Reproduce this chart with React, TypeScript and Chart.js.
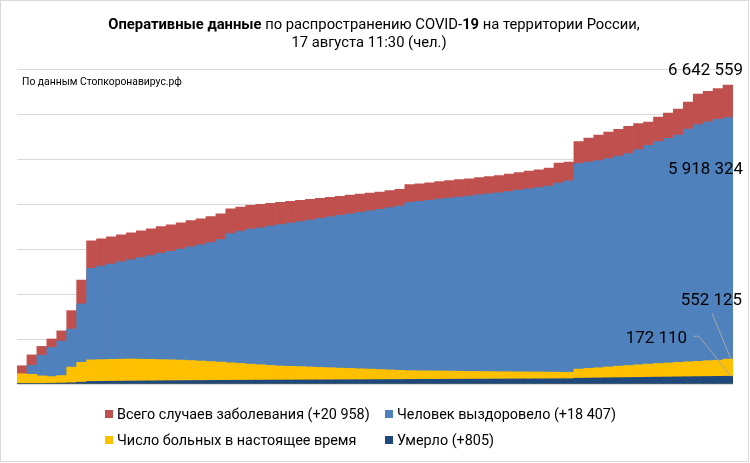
import React, { useEffect, useRef } from 'react';
import { Chart, registerables } from 'chart.js';

Chart.register(...registerables);

const FONT = 'Roboto, "Noto Sans", sans-serif';

const labels = [
  '01.06.20', '01.07.20', '01.08.20', '01.09.20', '01.10.20', '01.11.20', '01.12.20',
  '01.01.21', '04.01.21', '08.01.21', '11.01.21', '15.01.21', '18.01.21', '22.01.21', '25.01.21', '29.01.21',
  '01.02.21', '05.02.21', '08.02.21', '12.02.21', '15.02.21', '19.02.21', '22.02.21', '26.02.21',
  '01.03.21', '05.03.21', '08.03.21', '12.03.21', '15.03.21', '19.03.21', '22.03.21', '26.03.21', '29.03.21',
  '02.04.21', '05.04.21', '09.04.21', '12.04.21', '16.04.21', '19.04.21', '23.04.21', '26.04.21', '30.04.21',
  '03.05.21', '07.05.21', '10.05.21', '14.05.21', '17.05.21', '21.05.21', '24.05.21', '28.05.21', '31.05.21',
  '04.06.21', '07.06.21', '11.06.21', '14.06.21', '18.06.21', '21.06.21', '25.06.21', '28.06.21',
  '02.07.21', '05.07.21', '09.07.21', '12.07.21', '16.07.21', '19.07.21', '23.07.21', '26.07.21', '30.07.21',
  '02.08.21', '06.08.21', '09.08.21', '17.08.21',
];

// values in thousands of people
const totalCases = [
  405, 647, 835, 1000, 1180, 1630, 2310,
  3182, 3227, 3271, 3316, 3360, 3404, 3449, 3496, 3538, 3584, 3629, 3673, 3718, 3780,
  3893, 3931, 3969, 3991, 4013, 4036, 4058, 4082, 4104, 4127, 4149, 4171, 4196, 4218, 4240, 4267, 4296, 4327,
  4429, 4451, 4473, 4496, 4518, 4540, 4562, 4587, 4609, 4631, 4664, 4698, 4729, 4762, 4796, 4911, 4931,
  5389, 5467, 5531, 5596, 5660, 5724, 5789, 5822, 5929, 6018, 6107, 6267, 6444, 6504, 6564, 6642.559,
];

const recovered = [
  172, 415, 640, 812, 955, 1220, 1780,
  2571, 2618, 2667, 2713, 2762, 2809, 2856, 2904, 2951, 3000, 3047, 3093, 3142, 3210,
  3344, 3393, 3440, 3473, 3509, 3542, 3578, 3611, 3644, 3680, 3713, 3747, 3782, 3816, 3851, 3884, 3918, 3953,
  4036, 4060, 4082, 4107, 4131, 4156, 4178, 4202, 4227, 4249, 4278, 4309, 4338, 4367, 4398, 4467, 4516,
  4900, 4933, 4964, 5009, 5064, 5120, 5207, 5302, 5387, 5460, 5533, 5667, 5767, 5824, 5884, 5918.324,
];

const activeCases = [
  228, 215, 180, 165, 188, 375, 482,
  536, 542, 547, 551, 556, 551, 547, 542, 538, 531, 522, 511, 500, 487,
  471, 458, 442, 429, 413, 400, 393, 387, 378, 369, 362, 353, 347, 338, 331, 322, 313, 304,
  296, 293, 291, 289, 287, 284, 280, 278, 276, 273, 271, 269, 267, 267, 264, 262, 260,
  331, 347, 362, 380, 396, 411, 427, 442, 456, 467, 480, 493, 504, 518, 529, 552.125,
];

const deaths = [
  5, 9, 14, 17, 21, 28, 40,
  57, 60, 62, 64, 66, 68, 70, 72, 74, 75, 77, 78, 80, 81,
  83, 84, 85, 86, 87, 88, 89, 90, 91, 92, 93, 94, 95, 96, 97, 98, 99, 100,
  102, 103, 104, 105, 106, 107, 108, 109, 110, 111, 112, 113, 114, 115, 116, 117, 118,
  129, 132, 135, 138, 141, 144, 147, 150, 153, 156, 159, 162, 165, 167, 170, 172.11,
];

const yTicks = [0, 1000, 2000, 3000, 4000, 5000, 6000, 7000];

const legendLabels = [
  'Всего случаев заболевания (+20 958)',
  'Человек выздоровело (+18 407)',
  'Число больных в настоящее время',
  'Умерло (+805)',
];

const valueLabels = ['6 642 559', '5 918 324', '552 125', '172 110'];

const RED = '#C0504D';
const BLUE = '#4F81BD';
const YELLOW = '#FFC000';
const DARK = '#1F497D';

function fitSize(ctx: CanvasRenderingContext2D, parts: [string, string][], target: number) {
  let w = 0;
  for (const [t, weight] of parts) {
    ctx.font = `${weight} 100px ${FONT}`;
    w += ctx.measureText(t).width;
  }
  return (100 * target) / w;
}

const overlay = {
  id: 'overlay',
  afterDraw(chart: any) {
    const ctx: CanvasRenderingContext2D = chart.ctx;
    ctx.save();
    ctx.strokeStyle = '#d9d9d9';
    ctx.lineWidth = 1;
    ctx.strokeRect(0.5, 0.5, 748, 461);

    // Title
    const parts: [string, string][] = [
      ['Оперативные данные', 'bold'],
      [' по распространению COVID-', 'normal'],
      ['19', 'bold'],
      [' на территории России,', 'normal'],
    ];
    const ts = fitSize(ctx, parts, 532);
    let tw = 0;
    for (const [t, weight] of parts) {
      ctx.font = `${weight} ${ts}px ${FONT}`;
      tw += ctx.measureText(t).width;
    }
    ctx.fillStyle = '#000';
    ctx.textBaseline = 'alphabetic';
    ctx.textAlign = 'left';
    let x = 374 - tw / 2;
    for (const [t, weight] of parts) {
      ctx.font = `${weight} ${ts}px ${FONT}`;
      ctx.fillText(t, x, 29);
      x += ctx.measureText(t).width;
    }
    ctx.font = `normal ${ts}px ${FONT}`;
    ctx.textAlign = 'center';
    ctx.fillText('17 августа 11:30 (чел.)', 369, 47);

    // Source
    const src = 'По данным Стопкоронавирус.рф';
    const ss = fitSize(ctx, [[src, 'normal']], 160);
    ctx.font = `normal ${ss}px ${FONT}`;
    ctx.textAlign = 'left';
    ctx.fillText(src, 22, 85);

    // Value labels
    const y = chart.scales.y;
    const n = totalCases.length - 1;
    const bar = chart.getDatasetMeta(3).data[n];
    const right = bar.x + bar.width / 2;
    const vs = fitSize(ctx, [[valueLabels[0], 'normal']], 75);
    ctx.font = `normal ${vs}px ${FONT}`;
    ctx.textAlign = 'right';
    ctx.fillText(valueLabels[0], right + 10, y.getPixelForValue(totalCases[n]) - 10);
    ctx.fillText(valueLabels[1], right + 10, y.getPixelForValue(recovered[n]) + 56);
    const ya = y.getPixelForValue(activeCases[n]);
    const yd = y.getPixelForValue(deaths[n]);
    ctx.fillText(valueLabels[2], right + 9, ya - 54);
    ctx.fillText(valueLabels[3], right - 46, yd - 33);

    ctx.strokeStyle = '#a6a6a6';
    ctx.lineWidth = 1;
    ctx.beginPath();
    ctx.moveTo(right - 21, ya - 46);
    ctx.lineTo(right - 2, ya);
    ctx.moveTo(right - 40, yd - 40);
    ctx.lineTo(right - 34, yd - 40);
    ctx.lineTo(right - 2, yd);
    ctx.stroke();

    // Legend
    const colors = [RED, BLUE, YELLOW, DARK];
    const ls = fitSize(ctx, [[legendLabels[0], 'normal']], 253);
    ctx.font = `normal ${ls}px ${FONT}`;
    ctx.textAlign = 'left';
    const cols = [105, 385];
    const rows = [414, 440];
    legendLabels.forEach((t, i) => {
      const cx = cols[i % 2];
      const cy = rows[Math.floor(i / 2)];
      ctx.fillStyle = colors[i];
      ctx.fillRect(cx, cy - 4, 8, 8);
      ctx.fillStyle = '#000';
      ctx.fillText(t, cx + 12, cy + 5);
    });
    ctx.restore();
  },
};

export default function App() {
  const ref = useRef<HTMLCanvasElement>(null);
  useEffect(() => {
    document.body.style.margin = '0';
    const canvas = ref.current!;
    const chart = new Chart(canvas, {
      type: 'bar',
      data: {
        labels,
        datasets: [
          { label: legendLabels[3], data: deaths, backgroundColor: DARK },
          { label: legendLabels[2], data: activeCases, backgroundColor: YELLOW },
          { label: legendLabels[1], data: recovered, backgroundColor: BLUE },
          { label: legendLabels[0], data: totalCases, backgroundColor: RED },
        ],
      },
      options: {
        animation: false,
        responsive: true,
        maintainAspectRatio: false,
        layout: { padding: { left: 17, right: 17, top: 69, bottom: 79 } },
        datasets: {
          bar: { grouped: false, barPercentage: 1, categoryPercentage: 1, borderWidth: 0 },
        },
        plugins: {
          legend: { display: false },
          tooltip: { enabled: false },
          title: { display: false },
        },
        scales: {
          x: { display: false },
          y: {
            min: yTicks[0],
            max: yTicks[yTicks.length - 1],
            afterBuildTicks: (axis: any) => {
              axis.ticks = yTicks.map((v) => ({ value: v }));
            },
            ticks: { display: false },
            grid: { color: '#d9d9d9', drawTicks: false },
            border: { display: false },
          },
        },
      } as any,
      plugins: [overlay],
    });
    return () => chart.destroy();
  }, []);
  return (
    <div style={{ position: 'fixed', left: 0, top: 0, width: 750, height: 463, background: '#fff' }}>
      <canvas ref={ref} />
    </div>
  );
}
